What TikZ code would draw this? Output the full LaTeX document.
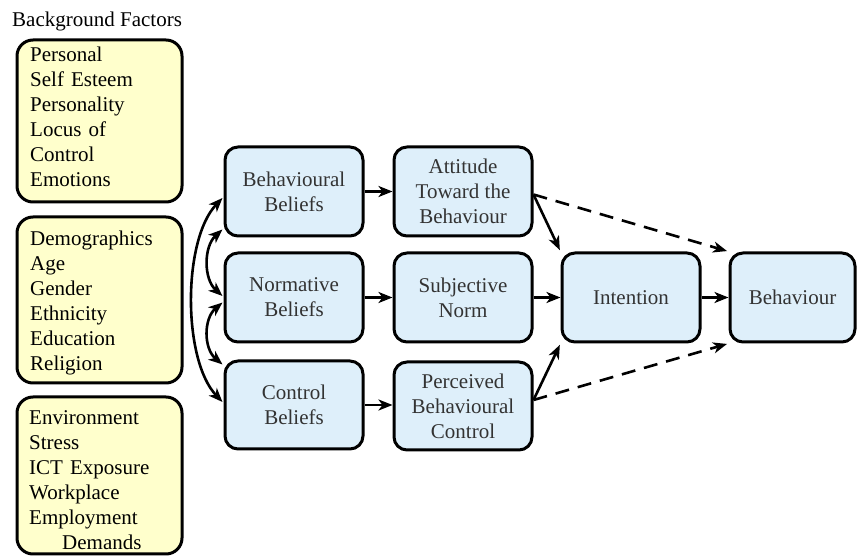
\documentclass[tikz,border=0pt]{standalone}
\usepackage{fontspec}
\setmainfont{Liberation Serif}
\newfontfamily\diagfont{Liberation Serif}
\usetikzlibrary{arrows.meta,calc}
\definecolor{yel}{RGB}{255,255,204}
\definecolor{blu}{RGB}{222,239,250}
\begin{document}
\begin{tikzpicture}[x=1pt,y=1pt,
  every node/.style={font=\diagfont\fontsize{21}{25}\selectfont},
  ybox/.style={draw, line width=3pt, rounded corners=16pt, fill=yel, minimum width=165pt, inner sep=0},
  ytext/.style={anchor=base west, text width=150pt, align=left, inner sep=0},
  bbox/.style={draw, line width=3pt, rounded corners=13pt, fill=blu, minimum width=138pt, minimum height=89pt, align=center, inner sep=0, text=black!80},
  tip/.tip={Stealth[length=14pt,width=11pt,inset=4pt]},
  arr/.style={line width=2.6pt, -tip},
  darr/.style={arr, dash pattern=on 14pt off 9pt},
  barr/.style={line width=2.6pt, tip-tip}
]
\useasboundingbox (0,0) rectangle (857,557);

\node[anchor=base west, inner sep=0] (title) at (12,530) {Background Factors};

% yellow boxes
\node[ybox, minimum height=162pt] (Y1) at (99.5,436) {};
\node[ybox, minimum height=166pt] (Y2) at (99.5,257) {};
\node[ybox, minimum height=157pt] (Y3) at (99.5,81.5) {};
\node[ytext] (Y1t) at (30,495) {Personal\\Self Esteem\\Personality\\Locus of\\Control\\Emotions};
\node[ytext] (Y2t) at (30,311) {Demographics\\Age\\Gender\\Ethnicity\\Education\\Religion};
\node[ytext] (Y3t) at (29,132) {Environment\\Stress\\ICT Exposure\\Workplace\\Employment\\\hspace*{33pt}Demands};

% blue boxes
\node[bbox] (BB) at (294,365.5) {Behavioural\\Beliefs};
\node[bbox] (ATT) at (463,365.5) {Attitude\\Toward the\\Behaviour};
\node[bbox] (NB) at (294,259.5) {Normative\\Beliefs};
\node[bbox] (SN) at (463,259.5) {Subjective\\Norm};
\node[bbox, minimum height=88pt] (CB) at (294,152) {Control\\Beliefs};
\node[bbox, minimum height=88pt] (PBC) at (463,151) {Perceived\\Behavioural\\Control};
\node[bbox] (INT) at (631,259.5) {Intention};
\node[bbox, minimum width=125pt] (BEH) at (792.5,259.5) {Behaviour};

% straight arrows
\draw[arr] (BB) -- (ATT);
\draw[arr] (NB) -- (SN);
\draw[arr] (CB.east) -- (CB.east -| PBC.west);
\draw[arr] (SN) -- (INT);
\draw[arr] (INT) -- (BEH);

\coordinate (attOut) at ($(ATT.east)+(0,-3)$);
\coordinate (pbcOut) at ($(PBC.east)+(0,6)$);
\draw[arr, shorten >=1.5pt] (attOut) -- (INT.north west);
\draw[darr, shorten >=1.5pt] (attOut) -- (BEH.north west);
\draw[arr, shorten >=1.5pt] (pbcOut) -- (INT.south west);
\draw[darr, shorten >=1.5pt] (pbcOut) -- (BEH.south west);

% curved double arrows on the left
\coordinate (o1) at ($(BB.west)+(-1,-6.5)$);
\coordinate (o2) at ($(CB.west)+(-1,3)$);
\coordinate (a1) at ($(BB.south west)+(-1,8)$);
\coordinate (a2) at ($(NB.west)+(-1,1.5)$);
\coordinate (b1) at ($(NB.west)+(-1,-5)$);
\coordinate (b2) at ($(CB.north west)+(-1,-5)$);
\draw[barr] (o1) .. controls +(-40,-42) and +(-40,42) .. (o2);
\draw[barr] (a1) .. controls +(-19,-17) and +(-19,17) .. (a2);
\draw[barr] (b1) .. controls +(-19,-16) and +(-19,16) .. (b2);
\end{tikzpicture}
\end{document}
